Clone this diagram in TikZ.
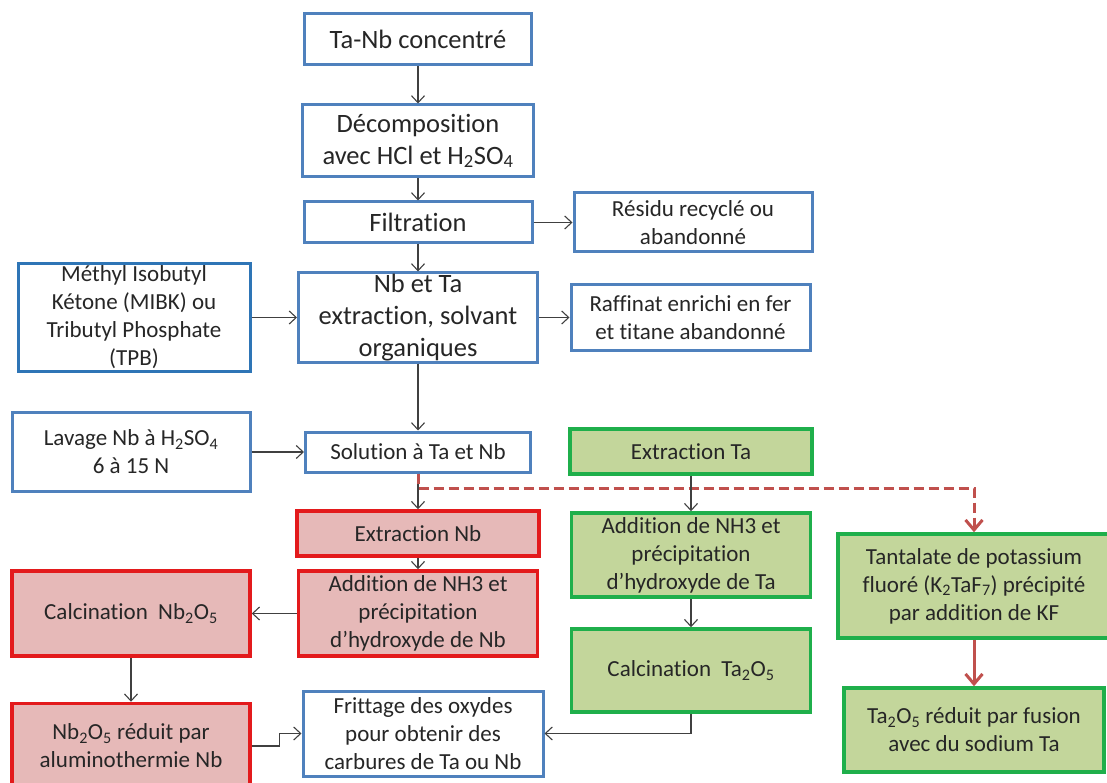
\documentclass[tikz,border=0pt]{standalone}
\usepackage{fontspec}
\setmainfont{Carlito}[Ligatures=NoCommon]
\usetikzlibrary{arrows.meta}
\definecolor{boxblue}{HTML}{4F81BD}
\definecolor{deepblue}{HTML}{2E75B6}
\definecolor{boxred}{HTML}{E31A1C}
\definecolor{fillred}{HTML}{E6B9B8}
\definecolor{boxgreen}{HTML}{1FAF4B}
\definecolor{fillgreen}{HTML}{C3D69B}
\definecolor{linered}{HTML}{C0504D}
\definecolor{txt}{HTML}{262626}

\begin{document}
\begin{tikzpicture}[x=1pt, y=-1pt,
	bl/.style={draw=boxblue, line width=3pt, fill=white, align=center, inner sep=1pt, text=txt},
	dbl/.style={bl, draw=deepblue},
	rd/.style={bl, draw=boxred, line width=3.5pt, fill=fillred},
	gr/.style={bl, draw=boxgreen, line width=3.5pt, fill=fillgreen},
	big/.style={font=\fontsize{26.5}{32}\selectfont},
	small/.style={font=\fontsize{23}{28}\selectfont},
	ar/.style={-{Straight Barb[length=7pt,width=13pt]}, draw=black!75, line width=1.1pt},
	rar/.style={-{Straight Barb[length=10pt,width=17pt]}, draw=linered, line width=3pt},
	rdash/.style={rar, dash pattern=on 10pt off 5pt}]
	\useasboundingbox (0,0) rectangle (1107,783);
	\path (418,39.5) node[bl, big, minimum width=227, minimum height=51] (n1){Ta-Nb concentré}
	(418,141) node[bl, big, minimum width=231, minimum height=72] (n2){Décomposition\\avec HCl et H\textsubscript{2}SO\textsubscript{4}}
	(418,222.5) node[bl, big, minimum width=228, minimum height=41] (n3){Filtration}
	(693,222.5) node[bl, small, minimum width=238, minimum height=59] (n4){Résidu recyclé ou\\abandonné}
	(134,317.5) node[dbl, small, minimum width=232, minimum height=107] (n5){Méthyl Isobutyl\\Kétone (MIBK) ou\\Tributyl Phosphate\\(TPB)}
	(418,317.5) node[bl, big, minimum width=239, minimum height=89] (n6){Nb et Ta\\extraction, solvant\\organiques}
	(690.5,317.5) node[bl, small, minimum width=239, minimum height=65] (n7){Raffinat enrichi en fer\\et titane abandonné}
	(131,452) node[bl, small, minimum width=238, minimum height=79] (n8){Lavage Nb à H\textsubscript{2}SO\textsubscript{4}\\6 à 15 N}
	(418,452) node[bl, small, minimum width=225, minimum height=40] (n9){Solution à Ta et Nb}
	(691,451.5) node[gr, small, minimum width=242, minimum height=45] (n10){Extraction Ta}
	(418,533.5) node[rd, small, minimum width=242, minimum height=45] (n11){Extraction Nb}
	(418,613.5) node[rd, small, minimum width=239, minimum height=85] (n12){Addition de NH3 et\\précipitation\\d’hydroxyde de Nb}
	(131,613.5) node[rd, small, minimum width=238, minimum height=85] (n13){Calcination\ \ Nb\textsubscript{2}O\textsubscript{5}}
	(691,555) node[gr, small, minimum width=239, minimum height=84] (n14){Addition de NH3 et\\précipitation\\d’hydroxyde de Ta}
	(974,586) node[gr, small, minimum width=272, minimum height=104] (n15){Tantalate de potassium\\fluoré (K\textsubscript{2}TaF\textsubscript{7}) précipité\\par addition de KF}
	(691,670.5) node[gr, small, minimum width=239, minimum height=83] (n16){Calcination\ \ Ta\textsubscript{2}O\textsubscript{5}}
	(131,746) node[rd, small, minimum width=238, minimum height=85] (n17){Nb\textsubscript{2}O\textsubscript{5} réduit par\\aluminothermie Nb}
	(423,733.5) node[bl, small, minimum width=240, minimum height=85] (n18){Frittage des oxydes\\pour obtenir des\\carbures de Ta ou Nb}
	(974,730) node[gr, small, minimum width=260, minimum height=84] (n19){Ta\textsubscript{2}O\textsubscript{5} réduit par fusion\\avec du sodium Ta};
	\coordinate (fork) at (418,488);
	
	\draw[ar] (n1) -- (n2);
	\draw[ar] (n2) -- (n3);
	\draw[ar] (n3) -- (n4);
	\draw[ar] (n3) -- (n6);
	\draw[ar] (n5) -- (n6);
	\draw[ar] (n6) -- (n7);
	\draw[ar] (n6) -- (n9);
	\draw[ar] (n8) -- (n9);
	\draw[ar] (n9) -- (n11);
	\draw[rdash] (n9.south) -- (fork) -| (n15.north);
	\draw[ar] (n10) -- (n14);
	\draw[ar] (n11) -- (n12);
	\draw[ar] (n12) -- (n13);
	\draw[ar] (n13) -- (n17);
	\draw[ar] (n14) -- (n16);
	\draw[rar] (n15) -- (n19);
	\draw[ar] (n16.south) |- (n18.east);
	\draw[ar] (n17.east) -- ++(28,0) |- (n18.west);
\end{tikzpicture}
\end{document}
